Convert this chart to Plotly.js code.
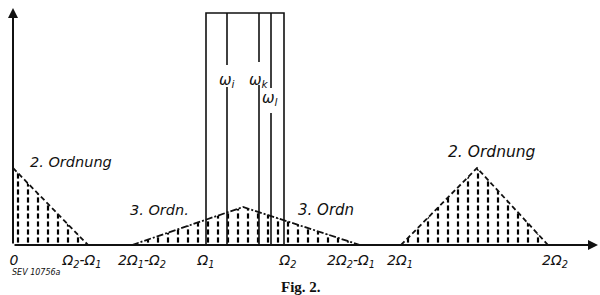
<!DOCTYPE html>
<html><head><meta charset="utf-8">
<script src="https://cdn.plot.ly/plotly-3.0.1.min.js"></script>
<style>html,body{margin:0;padding:0;background:#fff}#c{width:600px;height:295px}</style>
</head><body><div id="c"></div>
<script>
// frequency positions (schematic units)
const tickVals  = [1, 69, 129, 193, 275, 338, 387, 542];
const tickTexts = ['0','Ω<sub>2</sub>-Ω<sub>1</sub>','2Ω<sub>1</sub>-Ω<sub>2</sub>','Ω<sub>1</sub>','Ω<sub>2</sub>','2Ω<sub>2</sub>-Ω<sub>1</sub>','2Ω<sub>1</sub>','2Ω<sub>2</sub>'];
// band of fundamental frequencies
const bandX = [193, 193, 271, 271];
const bandY = [0, 232, 232, 0];
const omegaNames = ['ω<sub>i</sub>','ω<sub>k</sub>','ω<sub>l</sub>'];
const omegaX = [214, 246, 258];
const omegaGapLow = [158, 160, 132];
const omegaGapHigh = [180, 183, 157];
// 2nd order (difference) spectrum
const ord2aX = [0, 0, 75];
const ord2aY = [0, 77, 0];
// 3rd order spectrum
const ord3X = [119, 230, 347];
const ord3Y = [0, 38, 0];
// 2nd order (sum) spectrum
const ord2bX = [388, 464, 535];
const ord2bY = [0, 77, 0];

const traces = [];
function hatch(xs, ys){
  traces.push({x: xs.concat([xs[0]]), y: ys.concat([ys[0]]), mode:'lines', fill:'toself',
    fillcolor:'rgba(0,0,0,0)', line:{width:0, color:'rgba(0,0,0,0)'}, hoverinfo:'skip',
    fillpattern:{shape:'|', size:10, solidity:0.22, fgcolor:'#000', fgopacity:1, fillmode:'overlay'}});
  traces.push({x: xs.concat([xs[0]]), y: ys.concat([ys[0]]), mode:'lines', fill:'toself',
    fillcolor:'rgba(0,0,0,0)', line:{width:0, color:'rgba(0,0,0,0)'}, hoverinfo:'skip',
    fillpattern:{shape:'-', size:8, solidity:0.35, fgcolor:'#fff', fgopacity:1, fillmode:'overlay'}});
}
hatch(ord2aX, ord2aY);
hatch(ord3X, ord3Y);
hatch(ord2bX, ord2bY);
// envelopes
traces.push({x: ord2aX.slice(1), y: ord2aY.slice(1), mode:'lines', line:{color:'#111', width:1.8, dash:'5px,3px'}});
traces.push({x: ord3X, y: ord3Y, mode:'lines', line:{color:'#111', width:1.8, dash:'7px,2px,2px,2px'}});
traces.push({x: ord2bX, y: ord2bY, mode:'lines', line:{color:'#111', width:1.8, dash:'5px,3px'}});
// band
traces.push({x: bandX, y: bandY, mode:'lines', line:{color:'#111', width:1.6}});
for (let i = 0; i < omegaX.length; i++) {
  traces.push({x:[omegaX[i], omegaX[i], null, omegaX[i], omegaX[i]],
    y:[0, omegaGapLow[i], null, omegaGapHigh[i], 232], mode:'lines', line:{color:'#111', width:1.6}});
}

const F = s => ({family:'DejaVu Sans', size:s, color:'#111'});
const ann = [
  {x:585, y:0, ax:0, ay:0, axref:'x', ayref:'y', xref:'x', yref:'y', showarrow:true, arrowhead:2, arrowsize:1, arrowwidth:2, arrowcolor:'#111', text:''},
  {x:0, y:237, ax:0, ay:0, axref:'x', ayref:'y', xref:'x', yref:'y', showarrow:true, arrowhead:2, arrowsize:1, arrowwidth:2, arrowcolor:'#111', text:''},
  {x:58, y:83, text:'<i>2. Ordnung</i>', showarrow:false, font:F(14.5)},
  {x:146, y:35, text:'<i>3. Ordn.</i>', showarrow:false, font:F(14.5)},
  {x:313, y:35, text:'<i>3. Ordn</i>', showarrow:false, font:F(15)},
  {x:479, y:93, text:'<i>2. Ordnung</i>', showarrow:false, font:F(15.5)},
  {xref:'paper', yref:'paper', x:(10-13)/585, y:-27/245, xanchor:'left', yanchor:'middle', text:'<i>SEV 10756a</i>', showarrow:false, font:F(8)},
  {xref:'paper', yref:'paper', x:(301-13)/585, y:-42/245, xanchor:'center', yanchor:'middle', text:'<b>Fig. 2.</b>', showarrow:false, font:{family:'Liberation Serif', size:15, color:'#111'}}
];
for (let i = 0; i < omegaX.length; i++) {
  ann.push({x: omegaX[i] + (i===2 ? -1 : 0), y: i===2 ? 147 : 165, text:'<i>'+omegaNames[i]+'</i>', showarrow:false,
    font:F(15), bgcolor:'rgba(0,0,0,0)'});
}

const layout = {
  width:600, height:295, margin:{l:13, r:2, t:0, b:50},
  paper_bgcolor:'#fff', plot_bgcolor:'#fff', showlegend:false,
  xaxis:{range:[0,585], showgrid:false, zeroline:false, showline:false, ticks:'',
    tickvals:tickVals, ticktext:tickTexts.map(t=>'<i>'+t+'</i>'), tickangle:0, ticklabelstandoff:5,
    tickfont:{family:'DejaVu Sans', size:14, color:'#111'}, fixedrange:true},
  yaxis:{range:[0,245], showgrid:false, zeroline:false, showline:false, showticklabels:false, ticks:'', fixedrange:true},
  annotations: ann
};
Plotly.newPlot('c', traces, layout, {staticPlot:true, displayModeBar:false});
</script></body></html>
